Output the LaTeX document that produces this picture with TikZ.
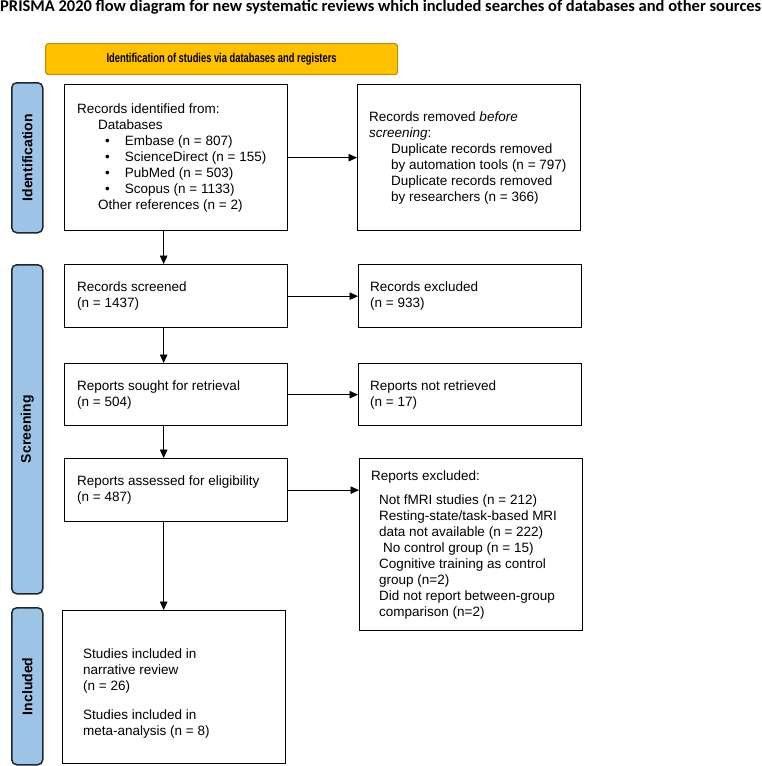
\documentclass[tikz,border=0pt]{standalone}
\usepackage{fontspec}
\setmainfont{Liberation Sans}
\newfontfamily\titlefont{Carlito}
\newfontfamily\narrowfont[FakeStretch=0.73]{Liberation Sans}
\usetikzlibrary{arrows.meta}
\definecolor{bannerfill}{HTML}{FFC000}
\definecolor{bannerdraw}{HTML}{BF9000}
\definecolor{sidefill}{HTML}{9DC3E6}
\definecolor{sidedraw}{HTML}{1E2630}
\tikzset{
  box/.style={draw=black, line width=1.3pt, inner sep=0pt, anchor=north west},
  txt/.style={align=left, inner sep=0pt, anchor=west, font=\fontsize{13.5}{16}\selectfont},
  sidebar/.style={draw=sidedraw, fill=sidefill, line width=1.5pt, rounded corners=5pt, inner sep=0pt, anchor=north west, minimum width=31pt},
  sidelabel/.style={rotate=90, inner sep=0pt, font=\fontsize{14}{16}\selectfont\bfseries},
  arr/.style={line width=0.8pt, -{Triangle[length=8.5pt,width=7.5pt]}}
}
\begin{document}
\begin{tikzpicture}[x=1pt,y=-1pt]
\useasboundingbox (0,0) rectangle (762,766);
% title
\node[anchor=base west, inner sep=0pt] (title) at (0,11) {\resizebox{761pt}{!}{\titlefont\bfseries PRISMA 2020 flow diagram for new systematic reviews which included searches of databases and other sources}};
% banner
\node[draw=bannerdraw, fill=bannerfill, line width=1.2pt, rounded corners=3pt, inner sep=0pt, anchor=north west, minimum width=352pt, minimum height=31pt] (ban) at (45,43) {};
\node[inner sep=0pt, font=\narrowfont\bfseries\fontsize{12.8}{15}\selectfont] (bantxt) at (ban.center) {Identification of studies via databases and registers};
% side bars
\node[sidebar, minimum height=150pt] (sid) at (11,82) {};
\node[sidelabel] (sidt) at (sid.center) {Identification};
\node[sidebar, minimum height=329pt] (sscr) at (11,264) {};
\node[sidelabel] (sscrt) at (sscr.center) {Screening};
\node[sidebar, minimum height=157pt] (sinc) at (11,607) {};
\node[sidelabel] (sinct) at (sinc.center) {Included};
% boxes
\node[box, minimum width=223pt, minimum height=146pt] (idb) at (64,84) {};
\node[txt] (idt) at ([xshift=13pt]idb.west) {Records identified from:\\
\hspace*{21pt}Databases\\
\hspace*{28pt}\textbullet\hspace*{15pt}Embase (n = 807)\\
\hspace*{28pt}\textbullet\hspace*{15pt}ScienceDirect (n = 155)\\
\hspace*{28pt}\textbullet\hspace*{15pt}PubMed (n = 503)\\
\hspace*{28pt}\textbullet\hspace*{15pt}Scopus (n = 1133)\\
\hspace*{21pt}Other references (n = 2)};
\node[box, minimum width=223pt, minimum height=146pt] (rmb) at (357,84) {};
\node[txt] (rmt) at ([xshift=12pt]rmb.west) {Records removed \textit{before}\\
\textit{screening}:\\
\hspace*{22pt}Duplicate records removed\\
\hspace*{22pt}by automation tools (n = 797)\\
\hspace*{22pt}Duplicate records removed\\
\hspace*{22pt}by researchers (n = 366)};
\node[box, minimum width=223pt, minimum height=63pt] (scb) at (64,264) {};
\node[txt] (sct) at ([xshift=13pt]scb.west) {Records screened\\(n = 1437)};
\node[box, minimum width=223pt, minimum height=63pt] (exb) at (358,264) {};
\node[txt] (ext) at ([xshift=12pt]exb.west) {Records excluded\\(n = 933)};
\node[box, minimum width=223pt, minimum height=62pt] (sob) at (64,363) {};
\node[txt] (sot) at ([xshift=13pt]sob.west) {Reports sought for retrieval\\(n = 504)};
\node[box, minimum width=223pt, minimum height=62pt] (nrb) at (358,363) {};
\node[txt] (nrt) at ([xshift=12pt]nrb.west) {Reports not retrieved\\(n = 17)};
\node[box, minimum width=223pt, minimum height=63pt] (asb) at (64,458) {};
\node[txt] (ast) at ([xshift=13pt]asb.west) {Reports assessed for eligibility\\(n = 487)};
\node[box, minimum width=223pt, minimum height=172pt] (reb) at (359,458) {};
\node[txt] (ret) at ([xshift=12pt]reb.west) {Reports excluded:\\[8pt]
\hspace*{8pt}Not fMRI studies (n = 212)\\
\hspace*{8pt}Resting-state/task-based MRI\\
\hspace*{8pt}data not available (n = 222)\\
\hspace*{12pt}No control group (n = 15)\\
\hspace*{8pt}Cognitive training as control\\
\hspace*{8pt}group (n=2)\\
\hspace*{8pt}Did not report between-group\\
\hspace*{8pt}comparison (n=2)};
\node[box, minimum width=223pt, minimum height=153pt] (stb) at (62,610) {};
\node[txt] (stt) at ([xshift=21pt,yshift=-6pt]stb.west) {Studies included in\\
narrative review\\
(n = 26)\\[13pt]
Studies included in\\
meta-analysis (n = 8)};
% arrows
\draw[arr] (idb.east) -- (rmb.west);
\draw[arr] (scb.east) -- (exb.west);
\draw[arr] (sob.east) -- (nrb.west);
\draw[arr] (asb.east) -- (asb.east -| reb.west);
\draw[arr] ([xshift=-12.5pt]idb.south) -- ([xshift=-12.5pt]scb.north);
\draw[arr] ([xshift=-12.5pt]scb.south) -- ([xshift=-12.5pt]sob.north);
\draw[arr] ([xshift=-12.5pt]sob.south) -- ([xshift=-12.5pt]asb.north);
\draw[arr] ([xshift=-12.5pt]asb.south) -- ([xshift=-12.5pt]asb.south |- stb.north);
\end{tikzpicture}
\end{document}
